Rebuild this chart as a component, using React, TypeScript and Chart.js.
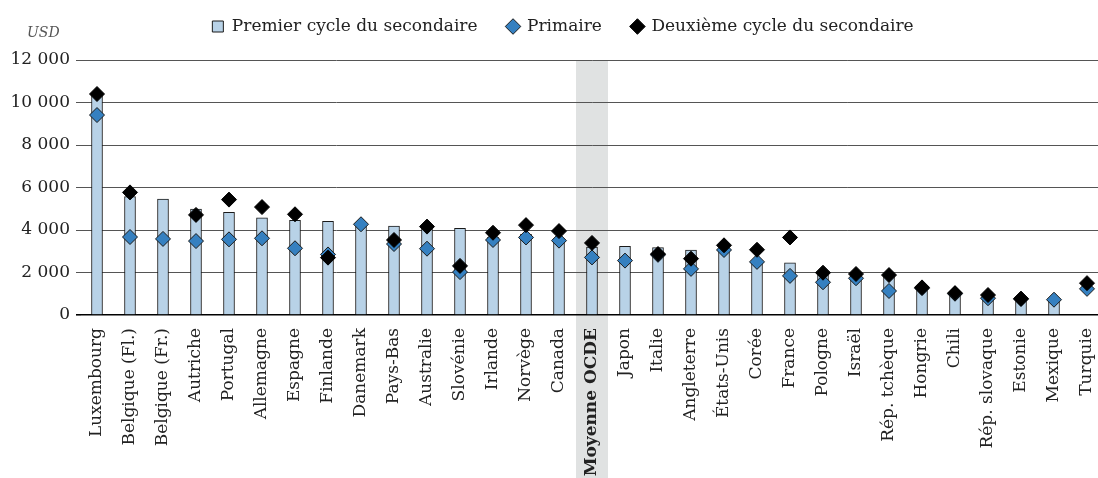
import React, { useEffect, useRef } from 'react';
import { Chart, registerables } from 'chart.js';

Chart.register(...registerables);

const categories = [
  'Luxembourg', 'Belgique (Fl.)', 'Belgique (Fr.)', 'Autriche', 'Portugal', 'Allemagne', 'Espagne',
  'Finlande', 'Danemark', 'Pays-Bas', 'Australie', 'Slovénie', 'Irlande', 'Norvège', 'Canada',
  'Moyenne OCDE', 'Japon', 'Italie', 'Angleterre', 'États-Unis', 'Corée', 'France', 'Pologne',
  'Israël', 'Rép. tchèque', 'Hongrie', 'Chili', 'Rép. slovaque', 'Estonie', 'Mexique', 'Turquie',
];

const premierCycle: (number | null)[] = [
  10350, 5570, 5460, 4990, 4830, 4570, 4450, 4410, 4200, 4180, 4100, 4080, 3650, 3800, 3600,
  3200, 3230, 3170, 3060, 3100, 2550, 2460, 1900, 1850, 1850, 1250, 1000, 850, 750, 700, null,
];

const primaire: (number | null)[] = [
  9410, 3670, 3580, 3480, 3560, 3610, 3140, 2850, 4270, 3340, 3120, 2020, 3530, 3650, 3500,
  2710, 2560, 2830, 2170, 3060, 2500, 1840, 1540, 1730, 1130, 1260, 1000, 790, 750, 720, 1230,
];

const deuxiemeCycle: (number | null)[] = [
  10400, 5770, null, 4710, 5430, 5080, 4740, 2700, null, 3530, 4160, 2310, 3870, 4230, 3950,
  3390, null, 2870, 2650, 3280, 3070, 3650, 1990, 1930, 1880, 1300, 1030, 940, 770, null, 1500,
];

const yTickValues = [0, 2000, 4000, 6000, 8000, 10000, 12000];
const highlightCategory = 'Moyenne OCDE';
const yUnit = 'USD';

const FONT = "'DejaVu Serif', serif";
const CANVAS_W = 1112;

const fmt = (v: number) => String(v).replace(/\B(?=(\d{3})+(?!\d))/g, ' ');

export default function App() {
  const ref = useRef<HTMLCanvasElement>(null);

  useEffect(() => {
    const canvas = ref.current;
    if (!canvas) return;
    const hi = categories.indexOf(highlightCategory);

    const bandPlugin = {
      id: 'band',
      beforeDraw(chart: any) {
        const { ctx, chartArea, scales } = chart;
        const x = scales.x.getPixelForValue(hi);
        ctx.save();
        ctx.fillStyle = '#e0e2e2';
        ctx.fillRect(x - 16, chartArea.top, 32, chart.height - chartArea.top);
        ctx.restore();
      },
    };

    const usdPlugin = {
      id: 'usd',
      afterDraw(chart: any) {
        const ctx = chart.ctx;
        ctx.save();
        ctx.font = `italic 14px ${FONT}`;
        ctx.fillStyle = '#555';
        ctx.textBaseline = 'middle';
        ctx.textAlign = 'left';
        ctx.fillText(yUnit, 27, 33);
        ctx.restore();
      },
    };

    const legendPlugin = {
      id: 'legendFix',
      beforeInit(chart: any) {
        const leg = chart.legend;
        const fit = leg.fit;
        leg.fit = function () {
          fit.call(this);
          this.height = 60;
        };
      },
      afterLayout(chart: any) {
        const l = chart.legend;
        l.top -= 12;
        l.bottom -= 12;
        l.left += 7;
        l.right += 7;
      },
    };

    const chart = new Chart(canvas, {
      type: 'bar',
      data: {
        labels: categories,
        datasets: [
          {
            type: 'bar',
            label: 'Premier cycle du secondaire',
            data: premierCycle,
            backgroundColor: '#b8d2e7',
            borderColor: '#1a1a1a',
            borderWidth: 1,
            barThickness: 11,
            pointStyle: 'rect',
            order: 3,
          } as any,
          {
            type: 'line',
            label: 'Primaire',
            data: primaire,
            showLine: false,
            pointStyle: 'rectRot',
            pointRadius: 7.5,
            pointHoverRadius: 7.5,
            pointBackgroundColor: '#3580c0',
            pointBorderColor: '#1a1a1a',
            pointBorderWidth: 1,
            backgroundColor: '#3580c0',
            borderColor: '#1a1a1a',
            borderWidth: 1,
            order: 2,
          } as any,
          {
            type: 'line',
            label: 'Deuxième cycle du secondaire',
            data: deuxiemeCycle,
            showLine: false,
            pointStyle: 'rectRot',
            pointRadius: 7.5,
            pointHoverRadius: 7.5,
            pointBackgroundColor: '#000000',
            pointBorderColor: '#000000',
            pointBorderWidth: 1,
            backgroundColor: '#000000',
            borderColor: '#000000',
            borderWidth: 1,
            order: 1,
          } as any,
        ],
      },
      options: {
        animation: false,
        responsive: false,
        maintainAspectRatio: false,
        events: [],
        layout: { padding: 0 },
        plugins: {
          tooltip: { enabled: false },
          legend: {
            display: true,
            position: 'top',
            labels: {
              usePointStyle: true,
              boxWidth: 11,
              boxHeight: 11,
              padding: 30,
              color: '#222',
              font: { family: FONT, size: 17 },
              sort: (a: any, b: any) => a.datasetIndex - b.datasetIndex,
            },
          },
        },
        scales: {
          x: {
            type: 'category',
            offset: true,
            grid: { display: false },
            border: { display: false },
            ticks: {
              autoSkip: false,
              maxRotation: 90,
              minRotation: 90,
              padding: 5,
              color: '#222',
              font: (ctx: any) => ({
                family: FONT,
                size: 17,
                weight: ctx.index === hi ? 'bold' : 'normal',
              }),
            },
            afterFit(scale: any) {
              scale.height = 163;
              scale.paddingLeft = 0;
              scale.paddingRight = 0;
            },
          },
          y: {
            min: 0,
            max: 12000,
            border: { display: false },
            grid: {
              drawTicks: true,
              tickLength: 4.5,
              color: (ctx: any) => (ctx.tick && ctx.tick.value === 0 ? '#000' : '#555'),
              lineWidth: (ctx: any) => (ctx.tick && ctx.tick.value === 0 ? 1.6 : 1),
            },
            afterBuildTicks(scale: any) {
              scale.ticks = yTickValues.map((v) => ({ value: v }));
            },
            ticks: {
              padding: 6,
              color: '#222',
              font: { family: FONT, size: 17 },
              callback: (v: any) => fmt(Number(v)),
            },
            afterFit(scale: any) {
              scale.width = 80.5;
            },
          },
        },
      } as any,
      plugins: [bandPlugin, usdPlugin, legendPlugin],
    });

    return () => chart.destroy();
  }, []);

  return (
    <div style={{ position: 'fixed', left: 0, top: 0, width: CANVAS_W, height: 478, background: '#fff' }}>
      <canvas ref={ref} width={CANVAS_W} height={478} style={{ width: CANVAS_W, height: 478, display: 'block' }} />
    </div>
  );
}
